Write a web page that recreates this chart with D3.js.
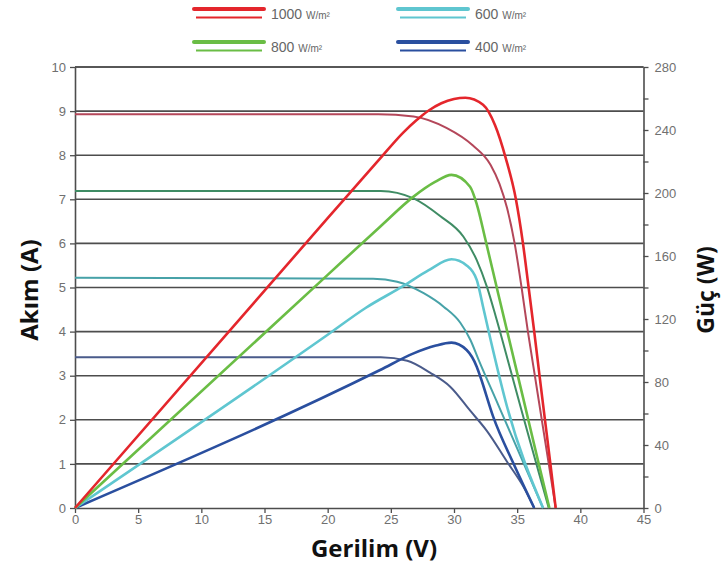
<!DOCTYPE html>
<html><head><meta charset="utf-8">
<script src="https://cdn.jsdelivr.net/npm/d3@7/dist/d3.min.js"></script>
<style>body{margin:0;background:#fff} svg{display:block}</style>
</head><body><svg id="c" width="721" height="569"></svg>
<script>
// ---- data ----
const irradiance = ["1000", "800", "600", "400"];
// I-V curves: [voltage V, current A]
const iv1000 = [[0,8.93],[24,8.93],[26.8,8.88],[29.4,8.62],[31.5,8.22],[32.9,7.78],[33.6,7.35],[34.2,6.8],[34.8,6.0],[35.35,5.0],[35.85,4.0],[36.4,3.0],[36.95,2.0],[37.5,1.0],[38.05,0]];
const iv800  = [[0,7.19],[24.2,7.19],[26.8,7.02],[28.9,6.62],[30.75,6.15],[31.8,5.62],[32.6,5.02],[33.3,4.35],[34.5,3.1],[35.5,2.05],[36.5,1.02],[37.5,0]];
const iv600  = [[0,5.22],[23.6,5.2],[25.5,5.13],[27.6,4.87],[29.2,4.56],[30.5,4.2],[31.3,3.81],[31.95,3.36],[33.5,2.34],[35,1.35],[37.05,0]];
const iv400  = [[0,3.42],[24.2,3.42],[26.3,3.34],[28.1,3.07],[29.7,2.75],[31.3,2.2],[32.6,1.75],[34.2,1.05],[35.5,0.48],[36.35,0]];
// P-V curves: [voltage V, power W]
const pv1000 = [[0,0],[20,184],[24,220.5],[26,238.5],[27,246],[28,252.4],[29,257],[30,259.7],[30.9,260.5],[32.3,256],[33.25,243],[34.1,222],[34.9,196],[35.45,168.5],[35.9,140.5],[36.35,112],[36.77,84],[37.2,56],[37.63,28],[38.05,0]];
const pv800  = [[0,0],[20,148],[24.15,178.6],[26.8,197.7],[28.5,207],[29.8,211.5],[31.27,204],[31.8,193],[32.5,170],[33.5,136],[34.5,102.5],[35.5,69],[36.5,35],[37.55,0]];
const pv600  = [[0,0],[20,110],[23,127],[26,141],[28,151],[29.8,157.9],[31,154],[31.8,144.8],[32.3,127.8],[32.9,106.7],[34.2,64.3],[37.05,0]];
const pv400  = [[0,0],[24.15,87.6],[26.8,98.2],[28.5,103],[29.8,105],[31,100.3],[31.8,89.7],[32.1,83],[33.1,58],[34.7,28.4],[36.35,0]];
const voltageTicks = [0,5,10,15,20,25,30,35,40,45];
const currentTicks = [0,1,2,3,4,5,6,7,8,9,10];
const powerTicks = [0,20,40,60,80,100,120,140,160,180,200,220,240,260,280];
const powerLabels = [0,40,80,120,160,200,240,280];

// ---- styles ----
const powerColors = {"1000":"#e4262c","800":"#6abd45","600":"#5fc6d0","400":"#2a4f9f"};
const ivColors    = {"1000":"#b4475a","800":"#3f8c64","600":"#47a2a8","400":"#4a5b8b"};
const ivData = {"1000":iv1000,"800":iv800,"600":iv600,"400":iv400};
const pvData = {"1000":pv1000,"800":pv800,"600":pv600,"400":pv400};

const svg = d3.select("#c");
const L = 75, R = 643.5, T = 67, B = 508;
const x  = d3.scaleLinear().domain([0,45]).range([L,R]);
const yI = d3.scaleLinear().domain([0,10]).range([B,T]);
const yP = d3.scaleLinear().domain([0,280]).range([B,T]);
const gridCol = "#4d4d4d", labCol = "#707070";
const tickFont = "Liberation Sans, Arial, sans-serif";

// gridlines
svg.append("g").selectAll("line").data(currentTicks.filter(d => d > 0)).join("line")
  .attr("x1", L).attr("x2", R).attr("y1", d => yI(d)).attr("y2", d => yI(d))
  .attr("stroke", gridCol).attr("stroke-width", 1.6);

function styleAxis(g) {
  g.select(".domain").attr("stroke", gridCol).attr("stroke-width", 1.6);
  g.selectAll(".tick line").attr("stroke", gridCol).attr("stroke-width", 1.3);
  g.selectAll(".tick text").attr("fill", labCol).attr("font-size", 13).attr("font-family", tickFont);
}
svg.append("g").attr("transform", `translate(${L},0)`)
  .call(d3.axisLeft(yI).tickValues(currentTicks).tickSize(5).tickSizeOuter(0).tickPadding(4))
  .call(styleAxis);
svg.append("g").attr("transform", `translate(${R},0)`)
  .call(d3.axisRight(yP).tickValues(powerTicks).tickSize(5).tickSizeOuter(0).tickPadding(6)
    .tickFormat(d => powerLabels.includes(d) ? d : ""))
  .call(styleAxis);
svg.append("g").attr("transform", `translate(0,${B})`)
  .call(d3.axisBottom(x).tickValues(voltageTicks).tickSize(5).tickSizeOuter(0).tickPadding(2))
  .call(styleAxis);
// top frame
svg.append("line").attr("x1", L).attr("x2", R).attr("y1", T).attr("y2", T)
  .attr("stroke", gridCol).attr("stroke-width", 1.6);

// curves
const line = (ys) => d3.line().x(d => x(d[0])).y(d => ys(d[1])).curve(d3.curveMonotoneX);
const order = ["400","600","800","1000"];
svg.append("g").selectAll("path").data(order).join("path")
  .attr("d", k => line(yI)(ivData[k])).attr("fill", "none")
  .attr("stroke", k => ivColors[k]).attr("stroke-width", 2);
svg.append("g").selectAll("path").data(order).join("path")
  .attr("d", k => line(yP)(pvData[k])).attr("fill", "none")
  .attr("stroke", k => powerColors[k]).attr("stroke-width", 2.6);

// legend
const legPos = {"1000":[194,9],"600":[398,9],"800":[194,42],"400":[398,42]};
irradiance.forEach(k => {
  const [lx, ly] = legPos[k];
  svg.append("line").attr("x1", lx).attr("x2", lx + 70).attr("y1", ly).attr("y2", ly)
    .attr("stroke", powerColors[k]).attr("stroke-width", 4).attr("stroke-linecap", "round");
  svg.append("line").attr("x1", lx + 2).attr("x2", lx + 68).attr("y1", ly + 8.5).attr("y2", ly + 8.5)
    .attr("stroke", powerColors[k]).attr("stroke-width", 1.8);
  const t = svg.append("text").attr("x", lx + 77).attr("y", ly + 10)
    .attr("fill", "#666").attr("font-family", tickFont);
  t.append("tspan").attr("font-size", 14).text(k + " ");
  t.append("tspan").attr("font-size", 10).text("W/m²");
});

// axis titles
const titleFont = "Open Sans, sans-serif";
const title = (sel) => sel.attr("font-family", titleFont).attr("font-weight", "bold")
  .attr("font-size", 24).attr("fill", "#111").attr("text-anchor", "middle");
svg.append("text").attr("x", 374).attr("y", 557).call(title).text("Gerilim (V)");
svg.append("text").attr("transform", "translate(38,290) rotate(-90)").call(title).text("Akım (A)");
svg.append("text").attr("transform", "translate(714,290) rotate(-90)").call(title).attr("font-size", 23).text("Güç (W)");
</script></body></html>
